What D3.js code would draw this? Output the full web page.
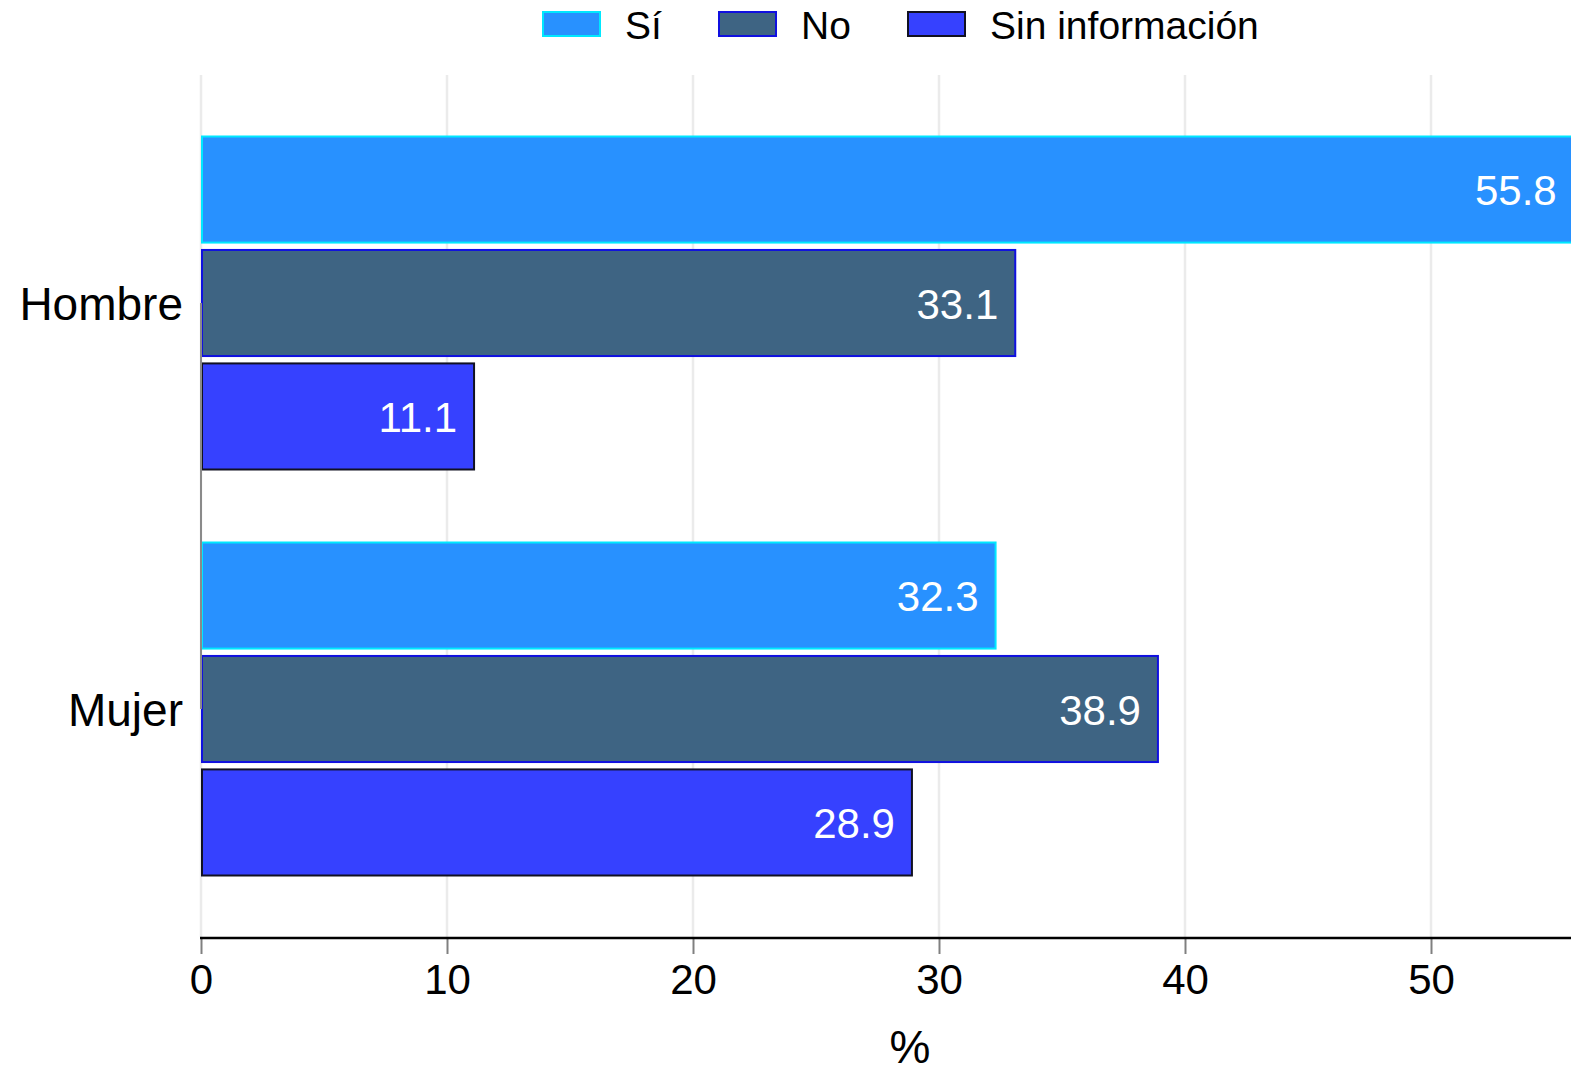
<!DOCTYPE html>
<html>
<head>
<meta charset="utf-8">
<script src="https://cdn.jsdelivr.net/npm/d3@7"></script>
<style>
  html, body { margin: 0; padding: 0; background: #fff; }
  svg { display: block; font-family: "Liberation Sans", Arial, Helvetica, sans-serif; }
</style>
</head>
<body>
<svg id="chart" width="1571" height="1073"></svg>
<script>
const categories = ["Hombre", "Mujer"];
const seriesNames = ["Sí", "No", "Sin información"];
const valuesSi = [55.8, 32.3];
const valuesNo = [33.1, 38.9];
const valuesSin = [11.1, 28.9];
const xTicks = [0, 10, 20, 30, 40, 50];
const axisTitle = "%";

const seriesValues = [valuesSi, valuesNo, valuesSin];
const fills = ["#2891ff", "#3e6483", "#3641ff"];
const strokes = ["#00e8ff", "#1010e0", "#111122"];

const svg = d3.select("#chart");
const x = d3.scaleLinear().domain([0, 50]).range([201, 1431]);
const yCat = d3.scalePoint().domain(categories).range([303, 709]);
const yInner = d3.scaleBand().domain(seriesNames).range([-166.5, 166.5]).paddingInner(0.065);

// gridlines
svg.append("g").selectAll("line").data(xTicks).join("line")
  .attr("x1", d => x(d)).attr("x2", d => x(d))
  .attr("y1", 75).attr("y2", 937)
  .attr("stroke", "#ebebeb").attr("stroke-width", 2.5);

// bars
const rows = [];
categories.forEach((c, ci) => {
  seriesNames.forEach((s, si) => {
    rows.push({cat: c, series: s, si, value: seriesValues[si][ci]});
  });
});

const bars = svg.append("g");
bars.selectAll("rect").data(rows).join("rect")
  .attr("x", x(0) + 1)
  .attr("y", d => yCat(d.cat) + yInner(d.series))
  .attr("width", d => x(d.value) - x(0) - 1)
  .attr("height", yInner.bandwidth())
  .attr("fill", d => fills[d.si])
  .attr("stroke", d => strokes[d.si])
  .attr("stroke-width", 2);

bars.selectAll("text").data(rows).join("text")
  .attr("x", d => x(d.value) - 17)
  .attr("y", d => yCat(d.cat) + yInner(d.series) + yInner.bandwidth() / 2)
  .attr("dy", "0.37em")
  .attr("text-anchor", "end")
  .attr("fill", "#fff")
  .attr("font-size", 42)
  .text(d => d.value.toFixed(1));

// y axis line (gray between categories), drawn over bars
svg.append("line")
  .attr("x1", x(0)).attr("x2", x(0))
  .attr("y1", yCat(categories[0])).attr("y2", yCat(categories[1]))
  .attr("stroke", "#8a8a8a").attr("stroke-width", 2);

// category labels
svg.append("g").selectAll("text").data(categories).join("text")
  .attr("x", 183)
  .attr("y", d => yCat(d))
  .attr("dy", "0.37em")
  .attr("text-anchor", "end")
  .attr("font-size", 46)
  .attr("fill", "#000")
  .text(d => d);

// x axis
const xAxis = d3.axisBottom(x).tickValues(xTicks).tickSize(16).tickPadding(10).tickSizeOuter(0);
const gx = svg.append("g").attr("transform", "translate(0,938)").call(xAxis);
gx.select(".domain").remove();
gx.selectAll(".tick line").attr("stroke", "#808080").attr("stroke-width", 2);
gx.selectAll(".tick text").attr("font-size", 42).attr("fill", "#000")
  .attr("font-family", "'Liberation Sans', Arial, Helvetica, sans-serif");
svg.append("line")
  .attr("x1", 200).attr("x2", 1571)
  .attr("y1", 938).attr("y2", 938)
  .attr("stroke", "#000").attr("stroke-width", 2.5);

svg.append("text")
  .attr("x", 910)
  .attr("y", 1063)
  .attr("text-anchor", "middle")
  .attr("font-size", 46)
  .attr("fill", "#000")
  .text(axisTitle);

// legend
const legendX = [543, 719, 908];
const lg = svg.append("g").selectAll("g").data(seriesNames).join("g")
  .attr("transform", (d, i) => `translate(${legendX[i]},12)`);
lg.append("rect")
  .attr("width", 57).attr("height", 24)
  .attr("fill", (d, i) => fills[i])
  .attr("stroke", (d, i) => strokes[i])
  .attr("stroke-width", 2);
lg.append("text")
  .attr("x", 82).attr("y", 13).attr("dy", "0.36em")
  .attr("font-size", 39)
  .attr("fill", "#000")
  .text(d => d);
</script>
</body>
</html>
